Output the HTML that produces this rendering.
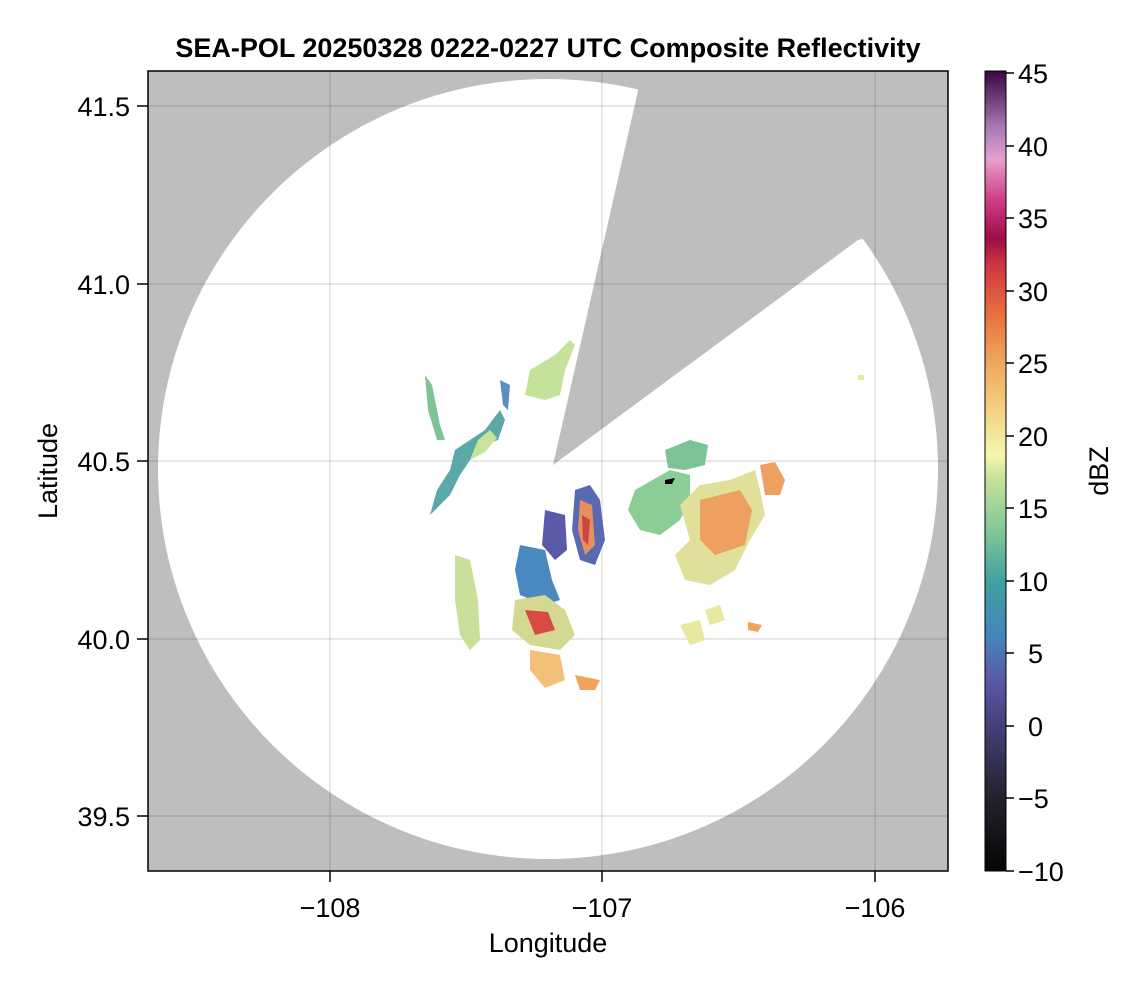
<!DOCTYPE html>
<html><head><meta charset="utf-8"><style>
body{margin:0;background:#fff;}
svg text{font-family:"Liberation Sans",sans-serif;}
</style></head><body>
<svg width="1146" height="990" viewBox="0 0 1146 990" xmlns="http://www.w3.org/2000/svg">
<defs>
<clipPath id="pa"><rect x="148" y="71" width="800" height="800"/></clipPath>
<linearGradient id="cb" x1="0" y1="1" x2="0" y2="0">
<stop offset="0" stop-color="#050505"/>
<stop offset="0.09" stop-color="#22222c"/>
<stop offset="0.18" stop-color="#453f78"/>
<stop offset="0.24" stop-color="#5a5aa8"/>
<stop offset="0.29" stop-color="#4683bd"/>
<stop offset="0.36" stop-color="#3fa0a0"/>
<stop offset="0.42" stop-color="#7cc496"/>
<stop offset="0.49" stop-color="#c5e29a"/>
<stop offset="0.52" stop-color="#f5f7b0"/>
<stop offset="0.57" stop-color="#f3d585"/>
<stop offset="0.64" stop-color="#f0a35a"/>
<stop offset="0.70" stop-color="#e86c3c"/>
<stop offset="0.76" stop-color="#cc3344"/>
<stop offset="0.79" stop-color="#9e0d46"/>
<stop offset="0.84" stop-color="#d03e8b"/>
<stop offset="0.89" stop-color="#e6a0cc"/>
<stop offset="0.93" stop-color="#a878b8"/>
<stop offset="1" stop-color="#3a0640"/>
</linearGradient>
</defs>
<text x="548" y="57" text-anchor="middle" font-size="27" font-weight="bold">SEA-POL 20250328 0222-0227 UTC Composite Reflectivity</text>
<g clip-path="url(#pa)">
<rect x="148" y="71" width="800" height="800" fill="#bebebe"/>
<circle cx="548" cy="469" r="390" fill="#fff"/>
<polygon points="553,465 645,60 1000,60 1000,205 858,240" fill="#bebebe"/>
<g stroke="#000" stroke-opacity="0.12" stroke-width="1.5">
<line x1="330" y1="71" x2="330" y2="871"/><line x1="602" y1="71" x2="602" y2="871"/><line x1="875" y1="71" x2="875" y2="871"/>
<line x1="148" y1="106" x2="948" y2="106"/><line x1="148" y1="284" x2="948" y2="284"/><line x1="148" y1="461" x2="948" y2="461"/><line x1="148" y1="639" x2="948" y2="639"/><line x1="148" y1="816" x2="948" y2="816"/>
</g>
<g>
<path d="M425,375 L432,385 L440,425 L445,440 L437,440 L428,410 Z" fill="#7cc496"/>
<path d="M500,410 L505,420 L498,440 L485,445 L470,460 L460,475 L450,495 L440,505 L430,515 L437,490 L450,470 L455,450 L470,440 L485,430 Z" fill="#5aa8a8"/>
<path d="M478,440 L490,430 L497,438 L485,452 L470,460 Z" fill="#c8e49a"/>
<path d="M530,370 L555,355 L570,340 L575,345 L565,370 L560,395 L545,400 L525,395 Z" fill="#c5e29a"/>
<path d="M500,380 L510,385 L508,410 L503,405 Z" fill="#5a8fbf"/>
<path d="M575,490 L590,485 L600,500 L605,540 L595,565 L580,560 L572,530 Z" fill="#5a6ab0"/>
<path d="M580,500 L592,505 L595,545 L585,555 L578,530 Z" fill="#e59060"/>
<path d="M582,515 L590,520 L588,545 L583,540 Z" fill="#cc4444"/>
<path d="M545,510 L565,515 L567,550 L555,560 L542,545 Z" fill="#5a5aa8"/>
<path d="M520,545 L545,550 L552,580 L560,600 L545,605 L520,595 L515,570 Z" fill="#4a88c0"/>
<path d="M515,600 L545,595 L565,610 L575,635 L560,650 L530,645 L512,630 Z" fill="#d4d890"/>
<path d="M525,610 L548,612 L555,630 L535,635 Z" fill="#d84a44"/>
<path d="M455,555 L470,560 L478,600 L480,640 L470,650 L460,635 L455,600 Z" fill="#c9e09a"/>
<path d="M530,650 L560,655 L565,680 L545,688 L530,670 Z" fill="#f3c07a"/>
<path d="M575,675 L600,680 L595,690 L580,690 Z" fill="#f0a35a"/>
<path d="M635,490 L670,470 L690,475 L690,500 L680,520 L660,535 L640,530 L628,510 Z" fill="#8ccc96"/>
<path d="M665,450 L690,440 L708,445 L705,465 L685,470 L668,468 Z" fill="#7cc496"/>
<path d="M680,505 L700,485 L730,480 L755,470 L760,490 L765,515 L750,540 L735,570 L710,585 L685,580 L675,555 L690,540 Z" fill="#e0e09a"/>
<path d="M700,500 L740,490 L752,510 L745,545 L715,555 L700,540 Z" fill="#eda060"/>
<path d="M760,465 L775,462 L785,480 L780,495 L765,495 Z" fill="#eda060"/>
<path d="M680,625 L700,620 L705,640 L690,645 Z" fill="#e8e8a0"/>
<path d="M705,610 L720,605 L725,620 L710,625 Z" fill="#e8e8a0"/>
<path d="M748,622 L762,625 L758,632 L748,630 Z" fill="#f0a35a"/>
<path d="M858,375 L864,375 L864,380 L858,380 Z" fill="#e8e8a0"/>
<path d="M665,480 L675,478 L672,484 L665,484 Z" fill="#000"/>
</g>
</g>
<rect x="148" y="71" width="800" height="800" fill="none" stroke="#000" stroke-width="1.5"/>
<g font-size="27" text-anchor="end">
<text x="130" y="116">41.5</text><text x="130" y="294">41.0</text><text x="130" y="471">40.5</text><text x="130" y="649">40.0</text><text x="130" y="826">39.5</text>
</g>
<g stroke="#000" stroke-width="1.5">
<line x1="137" y1="106" x2="148" y2="106"/><line x1="137" y1="284" x2="148" y2="284"/><line x1="137" y1="461" x2="148" y2="461"/><line x1="137" y1="639" x2="148" y2="639"/><line x1="137" y1="816" x2="148" y2="816"/>
<line x1="330" y1="871" x2="330" y2="882"/><line x1="602" y1="871" x2="602" y2="882"/><line x1="875" y1="871" x2="875" y2="882"/>
</g>
<g font-size="27" text-anchor="middle">
<text x="330" y="917">−108</text><text x="602" y="917">−107</text><text x="875" y="917">−106</text>
</g>
<text x="548" y="952" text-anchor="middle" font-size="27">Longitude</text>
<text transform="translate(57,471) rotate(-90)" text-anchor="middle" font-size="27">Latitude</text>
<rect x="985" y="71" width="21" height="800" fill="url(#cb)" stroke="#000" stroke-width="1"/>
<g stroke="#000" stroke-width="1.5">
<line x1="1006" y1="73" x2="1014" y2="73"/><line x1="1006" y1="146" x2="1014" y2="146"/><line x1="1006" y1="218" x2="1014" y2="218"/><line x1="1006" y1="291" x2="1014" y2="291"/><line x1="1006" y1="363" x2="1014" y2="363"/><line x1="1006" y1="436" x2="1014" y2="436"/><line x1="1006" y1="508" x2="1014" y2="508"/><line x1="1006" y1="581" x2="1014" y2="581"/><line x1="1006" y1="653" x2="1014" y2="653"/><line x1="1006" y1="726" x2="1014" y2="726"/><line x1="1006" y1="798" x2="1014" y2="798"/><line x1="1006" y1="871" x2="1014" y2="871"/>
</g>
<g font-size="27">
<text x="1018" y="83">45</text><text x="1018" y="156">40</text><text x="1018" y="228">35</text><text x="1018" y="301">30</text><text x="1018" y="373">25</text><text x="1018" y="446">20</text><text x="1018" y="518">15</text><text x="1018" y="591">10</text><text x="1028" y="663">5</text><text x="1028" y="736">0</text><text x="1018" y="808">−5</text><text x="1018" y="881">−10</text>
</g>
<text transform="translate(1108,471) rotate(-90)" text-anchor="middle" font-size="27">dBZ</text>
</svg>
</body></html>
